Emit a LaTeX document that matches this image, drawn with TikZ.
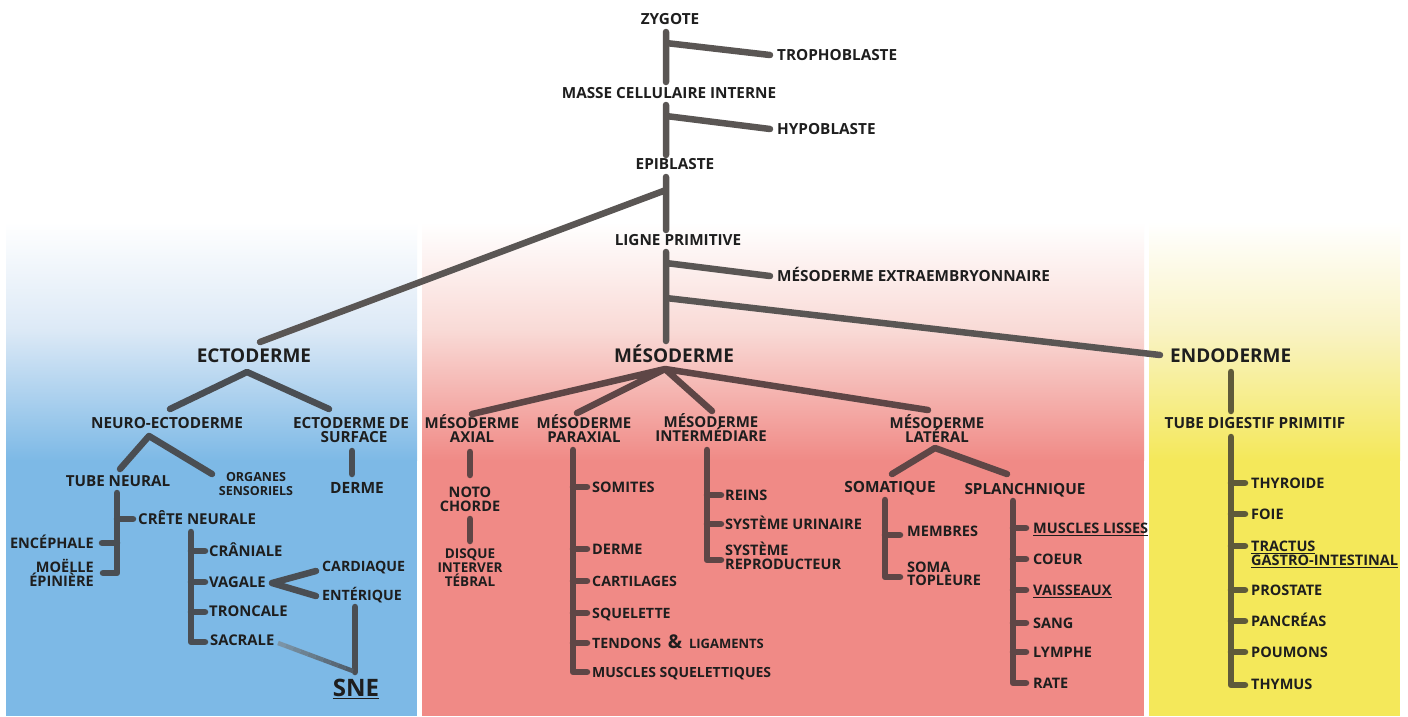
\documentclass[tikz,border=0pt]{standalone}
\usepackage{fontspec}
\setmainfont{Open Sans}
\usetikzlibrary{calc}
\definecolor{txt}{HTML}{1E1E1E}
\definecolor{blueFull}{HTML}{7DB9E6}
\definecolor{blueMid}{HTML}{DCE9F6}
\definecolor{pinkFull}{HTML}{F08A86}
\definecolor{pinkMid}{HTML}{F9DAD6}
\definecolor{yelFull}{HTML}{F4E85A}
\definecolor{yelMid}{HTML}{F9F3C4}
\definecolor{topc}{HTML}{5A5654}
\definecolor{ectc}{HTML}{4A4E53}
\definecolor{mesc}{HTML}{5E4646}
\definecolor{endc}{HTML}{5F5A3A}
\definecolor{sneA}{HTML}{7D97AA}
\definecolor{sneB}{HTML}{4E5A66}
\newcommand\myfs[1]{\fontsize{#1}{#1}\selectfont\bfseries}
\tikzset{
  lab/.style={inner sep=0pt, text=txt, font=\myfs{#1}, yshift={-0.357*#1}},
  lab/.default=14.5,
  lc/.style={lab=#1, anchor=base}, lc/.default=14.5,
  ll/.style={lab=#1, anchor=base west}, ll/.default=14.5,
  lr/.style={lab=#1, anchor=base east}, lr/.default=14.5,
  topline/.style={draw=topc, line width=6.5pt},
  ectline/.style={draw=ectc, line width=6.5pt},
  mesline/.style={draw=mesc, line width=6.5pt},
  endline/.style={draw=endc, line width=6.5pt},
}
\begin{document}
\begin{tikzpicture}[x=1pt,y=-1pt,line cap=round,line join=round]
\useasboundingbox (0,0) rectangle (1408,716);
\fill[white] (0,0) rectangle (1408,716);
% panels
\shade[top color=white, bottom color=blueMid] (6,222) rectangle (417,330.5);
\shade[top color=blueMid, bottom color=blueFull] (6,330) rectangle (417,460.5);
\fill[blueFull] (6,460) rectangle (417,716);
\shade[top color=white, bottom color=pinkMid] (422,222) rectangle (1144,330.5);
\shade[top color=pinkMid, bottom color=pinkFull] (422,330) rectangle (1144,460.5);
\fill[pinkFull] (422,460) rectangle (1144,716);
\shade[top color=white, bottom color=yelMid] (1149,222) rectangle (1400,330.5);
\shade[top color=yelMid, bottom color=yelFull] (1149,330) rectangle (1400,460.5);
\fill[yelFull] (1149,460) rectangle (1400,716);

% ---------- top chain ----------
\node[lc=15.3] (zyg) at (670,19) {ZYGOTE};
\node[ll=15.3] (tro) at (777,55) {TROPHOBLASTE};
\node[lc=15.3] (mci) at (669,93) {MASSE CELLULAIRE INTERNE};
\node[ll=15.3] (hyp) at (777,129) {HYPOBLASTE};
\node[lc=15.3] (epi) at (675,164) {EPIBLASTE};
\node[lc=15.3] (lig) at (678,240) {LIGNE PRIMITIVE};
\node[ll=15.3] (mex) at (777,276) {MÉSODERME EXTRAEMBRYONNAIRE};
\node[lc=19] (ecto) at (254,356) {ECTODERME};
\node[lc=19] (meso) at (674,356) {MÉSODERME};
\node[ll=19] (endo) at (1170,356) {ENDODERME};

\coordinate (a1) at (666,32);  \coordinate (a2) at (666,82);
\coordinate (a3) at (666,43);  \coordinate (troIn) at (770,55);
\coordinate (b1) at (666,105); \coordinate (b2) at (666,155);
\coordinate (b3) at (666,116); \coordinate (hypIn) at (770,129);
\coordinate (c1) at (666,177); \coordinate (c2) at (666,230);
\coordinate (c3) at (666,190); \coordinate (ectoIn) at (260,342);
\coordinate (d1) at (666,252); \coordinate (d2) at (666,341);
\coordinate (d3) at (666,263); \coordinate (mexIn) at (770,276);
\coordinate (d4) at (666,298); \coordinate (endoIn) at (1160,355);
\draw[topline] (a1)--(a2) (a3)--(troIn);
\draw[topline] (b1)--(b2) (b3)--(hypIn);
\draw[topline] (c1)--(c2) (c3)--(ectoIn);
\draw[topline] (d1)--(d2) (d3)--(mexIn) (d4)--(endoIn);

% ---------- ectoderm ----------
\node[lc=15.3] (neu) at (167,423) {NEURO-ECTODERME};
\node[lc=15.3] (sur1) at (351,423) {ECTODERME DE};
\node[lc=15.3] (sur2) at (354,437) {SURFACE};
\node[lc=15.5] (derE) at (357,488) {DERME};
\node[lc=15.2] (tub) at (118,481) {TUBE NEURAL};
\node[lc=12.5] (org1) at (256,477) {ORGANES};
\node[lc=12.5] (org2) at (256,491) {SENSORIELS};
\node[ll=15] (cre) at (138,519) {CRÊTE NEURALE};
\node[lr] (enc) at (94,543) {ENCÉPHALE};
\node[lr] (moe1) at (94,567) {MOËLLE};
\node[lr] (moe2) at (94,581) {ÉPINIÈRE};
\node[ll=14.8] (cra) at (209,551) {CRÂNIALE};
\node[ll=14.8] (vag) at (209,582) {VAGALE};
\node[ll=14.8] (tron) at (209,611) {TRONCALE};
\node[ll=14.8] (sac) at (210,640) {SACRALE};
\node[ll=14.2] (car) at (322,566) {CARDIAQUE};
\node[ll=14.2] (ent) at (322,595) {ENTÉRIQUE};
\node[lc=24] (sne) at (356,688) {\underline{SNE}};

\coordinate (e1) at (247,372); \coordinate (neuIn) at (170,409); \coordinate (surIn) at (329,409);
\draw[ectline] (neuIn)--(e1)--(surIn);
\coordinate (s1) at (352,451); \coordinate (s2) at (352,474);
\draw[ectline] (s1)--(s2);
\coordinate (n1) at (149,436); \coordinate (tubIn) at (120,469); \coordinate (orgIn) at (212,474);
\draw[ectline] (tubIn)--(n1)--(orgIn);
\coordinate (t1) at (117,493); \coordinate (t2) at (117,573); \coordinate (moeIn) at (103,573);
\coordinate (t3) at (117,519); \coordinate (creIn) at (133,519);
\coordinate (t4) at (117,543); \coordinate (encIn) at (102,543);
\draw[ectline] (t1)--(t2)--(moeIn) (t3)--(creIn) (t4)--(encIn);
\coordinate (k1) at (191,532); \coordinate (k2) at (191,642); \coordinate (sacIn) at (205,642);
\coordinate (k3) at (191,551); \coordinate (craIn) at (205,551);
\coordinate (k4) at (191,582); \coordinate (vagIn) at (205,582);
\coordinate (k5) at (191,612); \coordinate (tronIn) at (205,612);
\draw[ectline] (k1)--(k2)--(sacIn) (k3)--(craIn) (k4)--(vagIn) (k5)--(tronIn);
\coordinate (v1) at (272,583); \coordinate (carIn) at (316,571); \coordinate (entIn) at (316,596);
\draw[ectline] (carIn)--(v1)--(entIn);
\coordinate (en1) at (355,607); \coordinate (en2) at (355,672);
\draw[ectline] (en1)--(en2);
\coordinate (sacOut) at (278,643); \coordinate (sneIn) at (353,671);
\foreach \i in {0,...,9}{
  \pgfmathsetmacro\pa{\i/10}
  \pgfmathsetmacro\pb{(\i+1)/10}
  \pgfmathsetmacro\pc{100-\i*10-5}
  \draw[line width=4.5pt, line cap=butt, sneA!\pc!sneB] ($(sacOut)!\pa!(sneIn)$) -- ($(sacOut)!\pb!(sneIn)$);
}

% ---------- mesoderm ----------
\coordinate (m0) at (665,369);
\coordinate (axIn) at (472,414); \coordinate (parIn) at (577,413);
\coordinate (intIn) at (712,411); \coordinate (latIn) at (928,410);
\draw[mesline] (m0)--(axIn) (m0)--(parIn) (m0)--(intIn) (m0)--(latIn);
\node[lc=15] (ax1) at (472,423) {MÉSODERME};
\node[lc=15] (ax2) at (472,437) {AXIAL};
\node[lc=15] (pa1) at (584,423) {MÉSODERME};
\node[lc=15] (pa2) at (584,437) {PARAXIAL};
\node[lc=15] (in1) at (711,422) {MÉSODERME};
\node[lc=15] (in2) at (711,436) {INTERMÉDIARE};
\node[lc=15] (la1) at (937,423) {MÉSODERME};
\node[lc=15] (la2) at (937,437) {LATÉRAL};
% axial
\node[lc] (no1) at (470,492) {NOTO};
\node[lc] (no2) at (470,506) {CHORDE};
\node[lc=13.5] (di1) at (470,554) {DISQUE};
\node[lc=13.5] (di2) at (470,568) {INTERVER};
\node[lc=13.5] (di3) at (470,582) {TÉBRAL};
\coordinate (x1) at (470,452); \coordinate (x2) at (470,475);
\coordinate (x3) at (470,519); \coordinate (x4) at (470,541);
\draw[mesline] (x1)--(x2) (x3)--(x4);
% paraxial
\coordinate (p1) at (573,450); \coordinate (p2) at (573,672); \coordinate (musIn) at (587,672);
\draw[mesline] (p1)--(p2)--(musIn);
\foreach \y/\nm in {487/som,549/derm,581/cart,613/squ,643/ten}{
  \coordinate (\nm In) at (587,\y);
  \draw[mesline] (573,\y)--(\nm In);
}
\node[ll] (som) at (592,487) {SOMITES};
\node[ll] (derm) at (592,549) {DERME};
\node[ll=14.2] (cart) at (592,581) {CARTILAGES};
\node[ll=14.2] (squ) at (592,613) {SQUELETTE};
\node[ll=14.2] (ten) at (592,643) {TENDONS {\myfs{19}\,\&\,} {\myfs{13}LIGAMENTS}};
\node[ll=14] (mus) at (592,672) {MUSCLES SQUELETTIQUES};
% intermediate
\coordinate (i1) at (707,450); \coordinate (i2) at (707,560); \coordinate (repIn) at (721,560);
\coordinate (i3) at (707,495); \coordinate (reiIn) at (721,495);
\coordinate (i4) at (707,524); \coordinate (uriIn) at (721,524);
\draw[mesline] (i1)--(i2)--(repIn) (i3)--(reiIn) (i4)--(uriIn);
\node[ll] (rei) at (725,495) {REINS};
\node[ll] (uri) at (725,524) {SYSTÈME URINAIRE};
\node[ll] (rep1) at (725,550) {SYSTÈME};
\node[ll] (rep2) at (725,564) {REPRODUCTEUR};
% lateral
\coordinate (l0) at (935,448); \coordinate (somIn) at (892,474); \coordinate (splIn) at (1007,474);
\draw[mesline] (somIn)--(l0)--(splIn);
\node[lc=15.4] (soma) at (890,487) {SOMATIQUE};
\node[lc=15.3] (spl) at (1025,489) {SPLANCHNIQUE};
\coordinate (o1) at (885,500); \coordinate (o2) at (885,577); \coordinate (stpIn) at (900,577);
\coordinate (o3) at (885,535); \coordinate (memIn) at (900,535);
\draw[mesline] (o1)--(o2)--(stpIn) (o3)--(memIn);
\node[ll] (mem) at (907,531) {MEMBRES};
\node[ll] (stp1) at (907,567) {SOMA};
\node[ll] (stp2) at (907,580) {TOPLEURE};
\coordinate (q1) at (1013,501); \coordinate (q2) at (1013,683); \coordinate (ratIn) at (1026,683);
\draw[mesline] (q1)--(q2)--(ratIn);
\foreach \y/\nm in {528/mli,559/coe,590/vai,623/san,652/lym}{
  \coordinate (\nm In) at (1026,\y);
  \draw[mesline] (1013,\y)--(\nm In);
}
\node[ll] (mli) at (1033,528) {\underline{MUSCLES LISSES}};
\node[ll] (coe) at (1033,559) {COEUR};
\node[ll] (vai) at (1033,590) {\underline{VAISSEAUX}};
\node[ll] (san) at (1033,623) {SANG};
\node[ll] (lym) at (1033,652) {LYMPHE};
\node[ll] (rat) at (1033,683) {RATE};

% ---------- endoderm ----------
\coordinate (g1) at (1231,372); \coordinate (g2) at (1231,411);
\draw[endline] (g1)--(g2);
\node[lc=15.3] (tdp) at (1255,423) {TUBE DIGESTIF PRIMITIF};
\coordinate (h1) at (1231,437); \coordinate (h2) at (1231,685); \coordinate (thyIn) at (1245,685);
\draw[endline] (h1)--(h2)--(thyIn);
\foreach \y/\nm in {483/thr,514/foi,546/tra,590/pro,621/pan,652/pou}{
  \coordinate (\nm In) at (1245,\y);
  \draw[endline] (1231,\y)--(\nm In);
}
\node[ll] (thr) at (1251,483) {THYROIDE};
\node[ll] (foi) at (1251,514) {FOIE};
\node[ll] (tra1) at (1251,546) {\underline{TRACTUS}};
\node[ll] (tra2) at (1251,560) {\underline{GASTRO-INTESTINAL}};
\node[ll] (pro) at (1251,590) {PROSTATE};
\node[ll] (pan) at (1251,621) {PANCRÉAS};
\node[ll] (pou) at (1251,652) {POUMONS};
\node[ll] (thy) at (1251,684) {THYMUS};
\end{tikzpicture}
\end{document}
